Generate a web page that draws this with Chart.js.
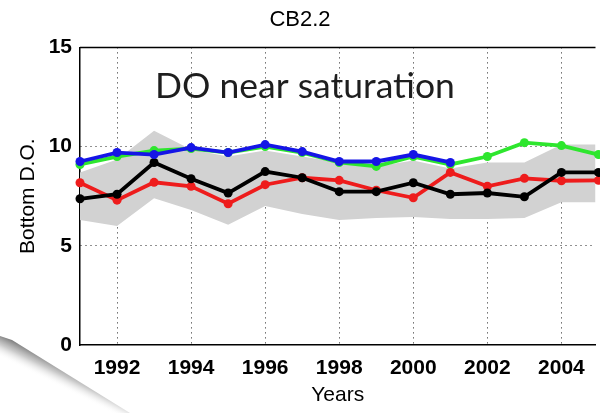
<!DOCTYPE html>
<html>
<head>
<meta charset="utf-8">
<script src="https://cdn.jsdelivr.net/npm/chart.js@4"></script>
<style>
  html, body { margin: 0; padding: 0; background: #fff; overflow: hidden; }
  #wrap { width: 600px; height: 413px; position: relative; }
</style>
</head>
<body>
<div id="wrap"><canvas id="doChart" width="600" height="413"></canvas></div>
<script>
// years on the x axis
const years = [1991, 1992, 1993, 1994, 1995, 1996, 1997, 1998, 1999, 2000, 2001, 2002, 2003, 2004, 2005];
const xTicks = [1992, 1994, 1996, 1998, 2000, 2002, 2004];
const yTicks = [0, 5, 10, 15];

// bottom dissolved oxygen series
const blueDO = [9.25, 9.7, 9.6, 9.95, 9.7, 10.1, 9.75, 9.25, 9.25, 9.6, 9.2, null, null, null, null];
const greenDO = [9.1, 9.5, 9.8, 9.9, 9.7, 10.0, 9.7, 9.2, 9.0, 9.5, 9.1, 9.5, 10.2, 10.05, 9.6];
const blackDO = [7.37, 7.6, 9.2, 8.38, 7.66, 8.74, 8.43, 7.73, 7.73, 8.18, 7.6, 7.66, 7.47, 8.7, 8.7];
const redDO = [8.18, 7.3, 8.2, 8.0, 7.12, 8.08, 8.43, 8.3, 7.8, 7.42, 8.7, 8.0, 8.4, 8.28, 8.3];

// gray range band
const bandHigh = [8.7, 9.35, 10.8, 9.85, 9.5, 9.8, 9.5, 9.2, 9.0, 9.3, 8.9, 9.2, 9.2, 10.1, 10.1];
const bandLow = [6.3, 6.0, 7.4, 6.8, 6.06, 7.0, 6.6, 6.3, 6.4, 6.45, 6.35, 6.35, 6.4, 7.2, 7.2];

const annotationText = "DO near saturation";

function pts(values) {
    return years.map((y, i) => ({ x: y, y: values[i] }));
}

function lineSet(label, values, color) {
    return {
        label: label,
        data: pts(values),
        borderColor: color,
        backgroundColor: color,
        borderWidth: 3.8,
        pointRadius: 4.5,
        pointHoverRadius: 4.5,
        pointBorderWidth: 0,
        tension: 0,
        fill: false,
        spanGaps: false,
        clip: false,
    };
}

const decor = {
    id: "decor",
    beforeDraw(chart) {
        const ctx = chart.ctx;
        ctx.save();
        ctx.fillStyle = "#fff";
        ctx.fillRect(0, 0, chart.width, chart.height);
        // page curl shadow bottom-left
        const g = ctx.createLinearGradient(60, 362, 50, 382);
        g.addColorStop(0, "rgba(90,90,90,0.9)");
        g.addColorStop(0.5, "rgba(170,170,170,0.6)");
        g.addColorStop(1, "rgba(255,255,255,0)");
        ctx.fillStyle = g;
        ctx.beginPath();
        ctx.moveTo(0, 336);
        ctx.lineTo(12, 340);
        ctx.lineTo(130, 413);
        ctx.lineTo(95, 413);
        ctx.lineTo(0, 356);
        ctx.closePath();
        ctx.fill();
        ctx.restore();
    },
    afterDraw(chart) {
        const ctx = chart.ctx;
        const a = chart.chartArea;
        ctx.save();
        // top border of the axes box
        ctx.strokeStyle = "#000";
        ctx.lineWidth = 1.5;
        ctx.beginPath();
        ctx.moveTo(a.left, a.top);
        ctx.lineTo(a.right, a.top);
        ctx.stroke();
        // annotation
        let size = 34;
        ctx.font = size + "px Lato";
        const w = ctx.measureText(annotationText).width;
        size = size * 300 / w;
        ctx.font = size + "px Lato";
        ctx.fillStyle = "#1e1e1e";
        ctx.textBaseline = "alphabetic";
        ctx.fillText(annotationText, 155, 98);
        ctx.restore();
    },
};

const ctx = document.getElementById("doChart").getContext("2d");
const chart = new Chart(ctx, {
    type: "line",
    data: {
        datasets: [
            lineSet("blue", blueDO, "#1515e6"),
            lineSet("black", blackDO, "#000000"),
            lineSet("red", redDO, "#ee1c1c"),
            lineSet("green", greenDO, "#2ee62e"),
            {
                label: "range high",
                data: pts(bandHigh),
                borderWidth: 0,
                borderColor: "rgba(0,0,0,0)",
                pointRadius: 0,
                tension: 0,
                fill: "+1",
                backgroundColor: "#d2d2d2",
            },
            {
                label: "range low",
                data: pts(bandLow),
                borderWidth: 0,
                borderColor: "rgba(0,0,0,0)",
                pointRadius: 0,
                tension: 0,
                fill: false,
            },
        ],
    },
    options: {
        responsive: false,
        animation: false,
        events: [],
        layout: { padding: { left: 0, right: 0, top: 0, bottom: 0 } },
        plugins: {
            legend: { display: false },
            tooltip: { enabled: false },
            title: {
                display: true,
                text: "CB2.2",
                color: "#000",
                font: { family: "Liberation Sans", size: 22, weight: "normal" },
                padding: { top: 7, bottom: 14 },
            },
        },
        scales: {
            x: {
                type: "linear",
                min: 1991,
                max: 2004.92,
                afterBuildTicks: (axis) => {
                    axis.ticks = xTicks.map((v) => ({ value: v }));
                },
                afterFit: (scale) => {
                    scale.height = 68;
                },
                ticks: {
                    color: "#000",
                    padding: 11,
                    maxRotation: 0,
                    autoSkip: false,
                    font: { family: "Liberation Sans", size: 21, weight: "bold" },
                    callback: (v) => String(v),
                },
                grid: {
                    color: "#222",
                    lineWidth: 1,
                    drawTicks: false,
                },
                border: { display: true, color: "#000", width: 1.5, dash: [1, 4] },
                title: {
                    display: true,
                    text: "Years",
                    color: "#000",
                    font: { family: "Liberation Sans", size: 21 },
                    padding: { top: 0, bottom: 5 },
                },
            },
            y: {
                min: 0,
                max: 15,
                afterBuildTicks: (axis) => {
                    axis.ticks = yTicks.map((v) => ({ value: v }));
                },
                afterFit: (scale) => {
                    scale.width = 80;
                },
                ticks: {
                    color: "#000",
                    padding: 8,
                    font: { family: "Liberation Sans", size: 21, weight: "bold" },
                },
                grid: {
                    color: (c) => (c.tick && (c.tick.value === 5 || c.tick.value === 10) ? "#222" : "rgba(0,0,0,0)"),
                    lineWidth: 1,
                    drawTicks: false,
                },
                border: { display: true, color: "#000", width: 1.5, dash: [1, 4] },
                title: {
                    display: true,
                    text: "Bottom D.O.",
                    color: "#000",
                    font: { family: "Liberation Sans", size: 21 },
                    padding: { top: 16, bottom: 0 },
                },
            },
        },
    },
    plugins: [decor],
});
</script>
</body>
</html>
